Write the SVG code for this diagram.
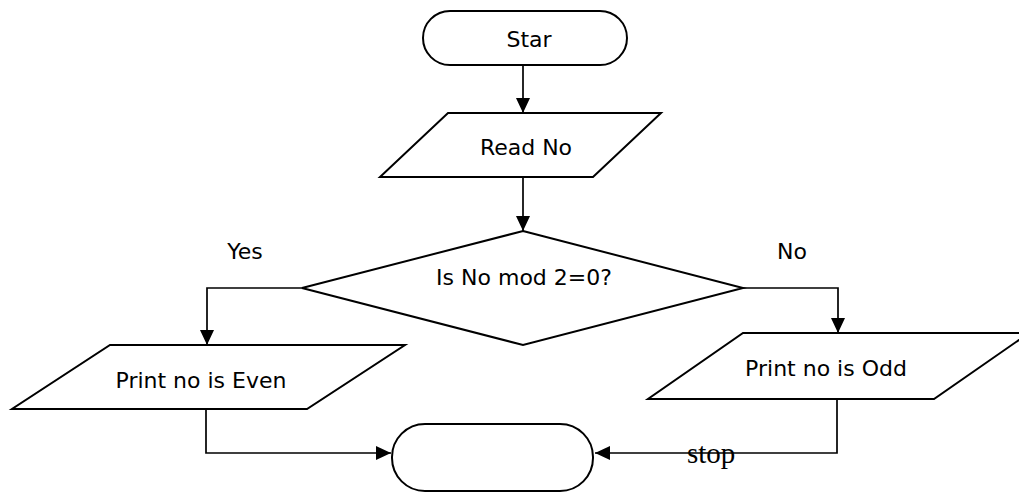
<svg xmlns="http://www.w3.org/2000/svg" width="1019" height="494" viewBox="0 0 1019 494">
<defs>
<style>
.shape{fill:#fff;stroke:#000;stroke-width:2;stroke-linejoin:miter}
.conn{fill:none;stroke:#000;stroke-width:1.7}
.lbl{font-family:"DejaVu Sans","Verdana",sans-serif;font-size:22px;fill:#000}
.serif{font-family:"Liberation Serif","Times New Roman",serif;font-size:29px;fill:#000}
</style>
<marker id="arr" markerWidth="16" markerHeight="14" refX="15" refY="7" orient="auto" markerUnits="userSpaceOnUse">
<path d="M0,0 L15,7 L0,14 Z" fill="#000"/>
</marker>
</defs>
<rect width="1019" height="494" fill="#fff"/>
<g id="connectors">
<line class="conn" x1="523" y1="65" x2="523" y2="113" marker-end="url(#arr)"/>
<line class="conn" x1="523" y1="177" x2="523" y2="231" marker-end="url(#arr)"/>
<polyline class="conn" points="302,288 207,288 207,345" marker-end="url(#arr)"/>
<polyline class="conn" points="743,288 838,288 838,333" marker-end="url(#arr)"/>
<polyline class="conn" points="206,409 206,453 391,453" marker-end="url(#arr)"/>
<polyline class="conn" points="837,399 837,453 595,453" marker-end="url(#arr)"/>
</g>
<g id="start">
<rect class="shape" x="423" y="11" width="204" height="54" rx="27" ry="27"/>
<text class="lbl" x="529" y="47" text-anchor="middle">Star</text>
</g>
<g id="read">
<polygon class="shape" points="448,113 661,113 593,177 380,177"/>
<text class="lbl" x="526" y="155" text-anchor="middle">Read No</text>
</g>
<g id="decision">
<polygon class="shape" points="523,231 743,288 523,345 302,288"/>
<text class="lbl" x="524" y="285" text-anchor="middle">Is No mod 2=0?</text>
</g>
<g id="labels">
<text class="lbl" x="245" y="259" text-anchor="middle">Yes</text>
<text class="lbl" x="792" y="259" text-anchor="middle">No</text>
</g>
<g id="even">
<polygon class="shape" points="110,345 405,345 307,409 12,409"/>
<text class="lbl" x="201" y="388" text-anchor="middle">Print no is Even</text>
</g>
<g id="odd">
<polygon class="shape" points="743,333 1029,333 934,399 648,399"/>
<text class="lbl" x="826" y="376" text-anchor="middle">Print no is Odd</text>
</g>
<g id="stop">
<rect class="shape" x="392" y="424" width="201" height="67" rx="33" ry="33"/>
</g>
<text class="serif" x="687" y="463">stop</text>
</svg>
